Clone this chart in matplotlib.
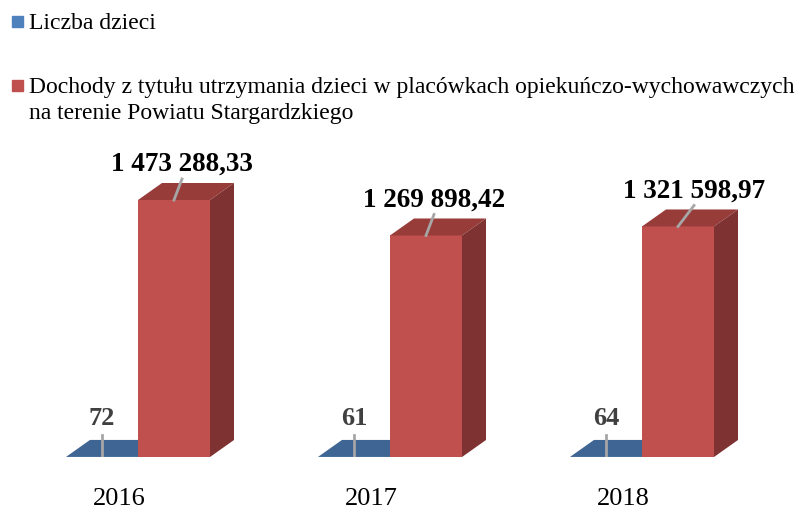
import matplotlib
matplotlib.use("Agg")
import matplotlib.pyplot as plt
from matplotlib.patches import Polygon

years = ["2016", "2017", "2018"]
children = [72, 61, 64]
income = [1473288.33, 1269898.42, 1321598.97]
income_labels = ["1 473 288,33", "1 269 898,42", "1 321 598,97"]
legend_children = "Liczba dzieci"
legend_income_1 = "Dochody z tytułu utrzymania dzieci w placówkach opiekuńczo-wychowawczych"
legend_income_2 = "na terenie Powiatu Stargardzkiego"

W, H = 810, 510
fig = plt.figure(figsize=(W / 100, H / 100), dpi=100)
fig.patch.set_facecolor("white")

base_px = 458          # baseline pixel from top
ref_px = 257           # pixel height of the largest bar
ymax = max(income) * base_px / ref_px
ax = fig.add_axes([0, (H - base_px) / H, 1, base_px / H])
cat_px = 252
ax.set_xlim(-174 / cat_px, (W - 174) / cat_px)
ax.set_ylim(0, ymax)
ax.axis("off")

px_x = 1 / cat_px
px_y = max(income) / ref_px
w = 72 * px_x
dx = 24 * px_x
dy = 17 * px_y
label_shift_px = [8, 8, 16]   # horizontal shift of leader/label per bar

blue_front = "#4F81BD"
blue_top = "#3E6594"
red_front = "#C0504D"
red_top = "#983C3A"
red_side = "#7E3231"
lead = "#A6A6A6"
serif = ["Liberation Serif", "DejaVu Serif"]

for i in range(len(years)):
    # blue (children) bar
    xb = i - w
    v = children[i] * px_y / 1000.0
    ax.bar(xb, v, width=w, color=blue_front, zorder=2)
    xl, xr = xb - w / 2, xb + w / 2
    ax.add_patch(Polygon([(xl, v), (xr, v), (xr + dx, v + dy), (xl + dx, v + dy)],
                         closed=True, color=blue_top, zorder=2, lw=0))
    ax.plot([xb, xb], [0, 22 * px_y], color=lead, lw=2, zorder=5)
    ax.text(xb, 33 * px_y, str(children[i]), ha="center", va="baseline",
            fontsize=19, fontweight="bold", color="#404040", family=serif, zorder=6)

    # red (income) bar
    xc = i
    val = income[i]
    ax.bar(xc, val, width=w, color=red_front, zorder=3)
    xl, xr = xc - w / 2, xc + w / 2
    ax.add_patch(Polygon([(xl, val), (xr, val), (xr + dx, val + dy), (xl + dx, val + dy)],
                         closed=True, color=red_top, zorder=3, lw=0))
    ax.add_patch(Polygon([(xr, 0), (xr + dx, dy), (xr + dx, val + dy), (xr, val)],
                         closed=True, color=red_side, zorder=3, lw=0))
    sx = label_shift_px[i] * px_x
    ax.plot([xc, xc + sx], [val, val + 21 * px_y], color=lead, lw=2, zorder=5)
    ax.text(xc + sx, val + 30 * px_y, income_labels[i], ha="center", va="baseline",
            fontsize=19.5, fontweight="bold", color="black", family=serif, zorder=6)

    # year label
    ax.text(xc - 55 * px_x, -47 * px_y, years[i], ha="center", va="baseline",
            fontsize=19, color="black", family=serif, zorder=6)

# legend
def fx(p):
    return p / W

def fy(p):
    return 1 - p / H

fig.patches.append(plt.Rectangle((fx(12), fy(28)), 11 / W, 11 / H, transform=fig.transFigure,
                                 color=blue_front, figure=fig))
fig.text(fx(29), fy(29), legend_children, ha="left", va="baseline", fontsize=17,
         family=serif, color="black")
fig.patches.append(plt.Rectangle((fx(12), fy(92)), 11 / W, 11 / H, transform=fig.transFigure,
                                 color=red_front, figure=fig))
fig.text(fx(29), fy(93), legend_income_1, ha="left", va="baseline", fontsize=17,
         family=serif, color="black")
fig.text(fx(29), fy(119), legend_income_2, ha="left", va="baseline", fontsize=17,
         family=serif, color="black")

fig.savefig("out.png", dpi=100, facecolor="white")
